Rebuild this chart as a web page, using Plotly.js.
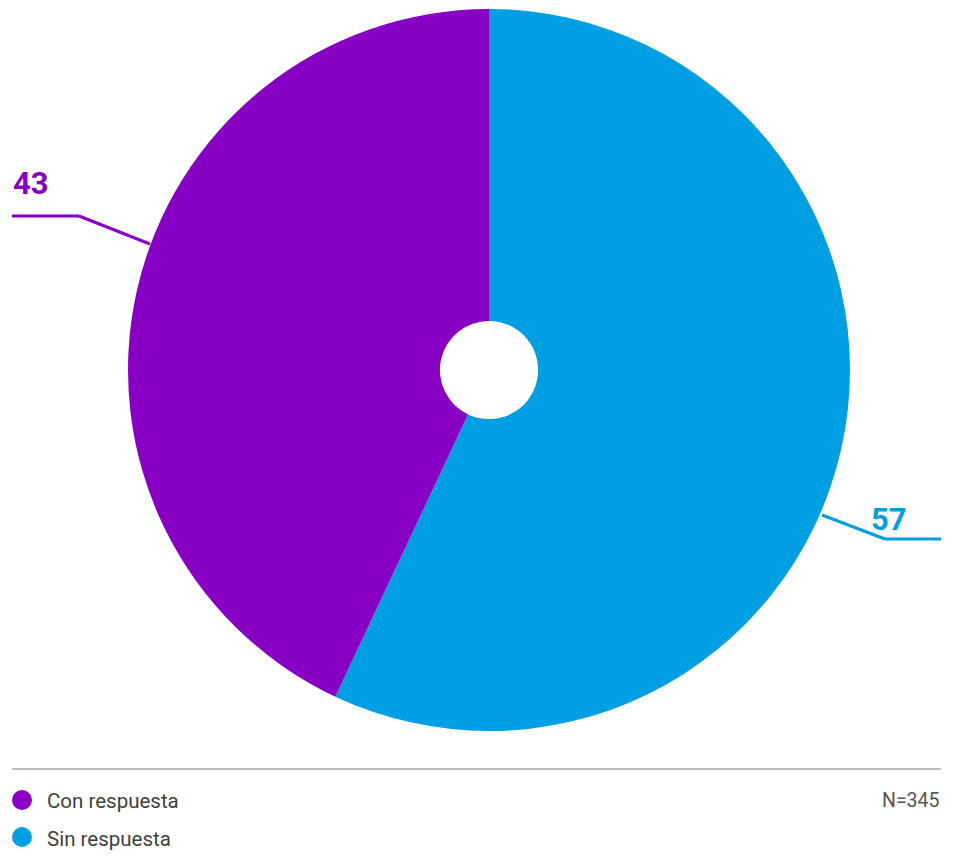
<!DOCTYPE html>
<html>
<head>
<meta charset="utf-8">
<script src="https://cdn.plot.ly/plotly-3.0.1.min.js"></script>
<style>html,body{margin:0;padding:0;background:#fff;}#chart{width:955px;height:868px;}</style>
</head>
<body>
<div id="chart"></div>
<script>
// Data
const categories = ["Con respuesta", "Sin respuesta"];
const values = [43, 57];
const colors = ["#8800C4", "#009FE3"];
const sampleNote = "N=345";

const W = 955, H = 868;
const px = x => x / W;
const py = y => 1 - y / H;

// slices drawn clockwise from 12 o'clock: Sin respuesta first, then Con respuesta
const order = [1, 0];
const trace = {
  type: "pie",
  labels: order.map(i => categories[i]),
  values: order.map(i => values[i]),
  marker: { colors: order.map(i => colors[i]), line: { width: 0 } },
  hole: 0.136,
  sort: false,
  direction: "clockwise",
  rotation: 0,
  textinfo: "none",
  hoverinfo: "label+value",
  showlegend: false,
  domain: { x: [px(128), px(850)], y: [py(731), py(9)] }
};

const font = "Roboto, 'DejaVu Sans', sans-serif";

// Leader lines (label layout styling)
const leaderPaths = [
  [[12, 216], [79, 216], [150, 244]],
  [[822, 515], [885, 539], [941, 539]]
];
const labelPos = [
  { x: 11, y: 184, anchor: "left" },
  { x: 909, y: 519, anchor: "right" }
];

const shapes = [];
const annotations = [];
leaderPaths.forEach((pts, i) => {
  for (let k = 0; k < pts.length - 1; k++) {
    shapes.push({
      type: "line", xref: "paper", yref: "paper",
      x0: px(pts[k][0]), y0: py(pts[k][1]), x1: px(pts[k + 1][0]), y1: py(pts[k + 1][1]),
      line: { color: colors[i], width: 3 }
    });
  }
  annotations.push({
    xref: "paper", yref: "paper",
    x: px(labelPos[i].x), y: py(labelPos[i].y),
    xanchor: labelPos[i].anchor, yanchor: "middle",
    text: "<b>" + values[i] + "</b>", showarrow: false,
    font: { family: font, size: 31, color: colors[i] }
  });
});

// separator line
shapes.push({
  type: "line", xref: "paper", yref: "paper",
  x0: px(12), x1: px(941), y0: py(769), y1: py(769),
  line: { color: "#a8a8a8", width: 1.5 }
});

// custom legend with circles
const legendY = [800, 837];
const legendTextY = [801, 839];
categories.forEach((c, i) => {
  shapes.push({
    type: "circle", xref: "paper", yref: "paper",
    x0: px(12), x1: px(32), y0: py(legendY[i] + 10), y1: py(legendY[i] - 10),
    fillcolor: colors[i], line: { width: 0 }
  });
  annotations.push({
    xref: "paper", yref: "paper",
    x: px(45), y: py(legendTextY[i]), xanchor: "left", yanchor: "middle",
    text: c, showarrow: false,
    font: { family: font, size: 20.5, color: "#3f3f3f" }
  });
});

annotations.push({
  xref: "paper", yref: "paper",
  x: px(942), y: py(800), xanchor: "right", yanchor: "middle",
  text: sampleNote, showarrow: false,
  font: { family: font, size: 19.5, color: "#555555" }
});

const layout = {
  width: W, height: H,
  margin: { l: 0, r: 0, t: 0, b: 0 },
  paper_bgcolor: "#ffffff",
  plot_bgcolor: "#ffffff",
  shapes: shapes,
  annotations: annotations,
  showlegend: false
};

Plotly.newPlot("chart", [trace], layout, { displayModeBar: false, staticPlot: true });
</script>
</body>
</html>
